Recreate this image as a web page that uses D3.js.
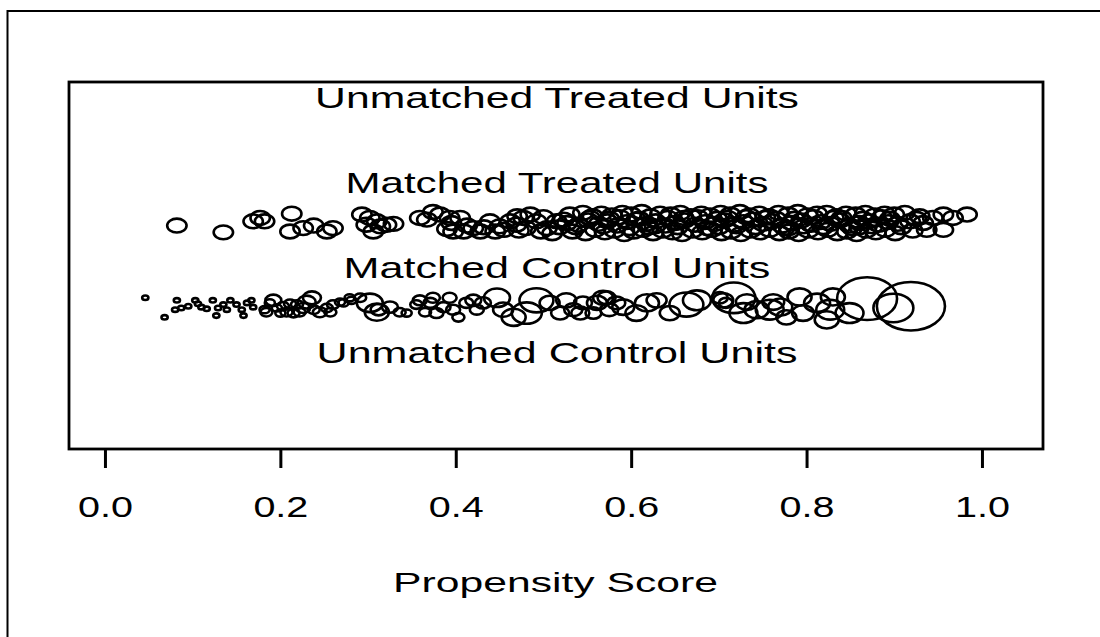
<!DOCTYPE html>
<html>
<head>
<meta charset="utf-8">
<script src="https://cdn.jsdelivr.net/npm/d3@7"></script>
<style>
  body { margin: 0; background: #fff; }
  text { font-family: "Liberation Sans", Arial, sans-serif; fill: #000; }
</style>
</head>
<body>
<div id="chart"></div>
<script>

// propensity scores and jittered y positions of the matched treated units
var treatedScore = [
    0.082, 0.135, 0.169, 0.177, 0.182, 0.213, 0.211, 0.226, 0.238, 0.253, 0.260,
    0.293, 0.298, 0.302, 0.306, 0.310, 0.314, 0.321, 0.329,
    0.359, 0.367, 0.374, 0.382, 0.390, 0.393, 0.397, 0.405, 0.409, 0.420, 0.428,
    0.439, 0.450, 0.462, 0.469, 0.477, 0.485, 0.492, 0.504, 0.515, 0.523,
    0.395, 0.413, 0.432, 0.445, 0.455, 0.472, 0.480, 0.497, 0.510, 0.518, 0.500, 0.470,
    0.530, 0.545, 0.556, 0.566, 0.578, 0.590, 0.600, 0.612, 0.622, 0.633, 0.645, 0.656,
    0.668, 0.680, 0.690, 0.702, 0.713, 0.724, 0.735, 0.746, 0.757, 0.768, 0.779, 0.790,
    0.801, 0.812, 0.823, 0.834, 0.845, 0.856, 0.867, 0.878, 0.889, 0.900, 0.912, 0.929,
    0.944, 0.956, 0.967, 0.983,
    0.527, 0.540, 0.551, 0.563, 0.573, 0.584, 0.595, 0.606, 0.617, 0.628, 0.639, 0.650,
    0.661, 0.673, 0.684, 0.695, 0.706, 0.717, 0.728, 0.739, 0.750, 0.761, 0.772, 0.783,
    0.794, 0.805, 0.816, 0.827, 0.838, 0.849, 0.860, 0.871, 0.882, 0.893, 0.904, 0.918, 0.933,
    0.533, 0.548, 0.559, 0.570, 0.581, 0.592, 0.603, 0.614, 0.625, 0.636, 0.647, 0.658,
    0.670, 0.681, 0.692, 0.703, 0.714, 0.725, 0.736, 0.747, 0.758, 0.769, 0.780, 0.791,
    0.802, 0.813, 0.824, 0.835, 0.846, 0.857, 0.868, 0.879, 0.890, 0.901, 0.921, 0.937, 0.956,
    0.575, 0.660, 0.710, 0.765, 0.840, 0.895, 0.620, 0.700, 0.780, 0.860,
    0.537, 0.553, 0.568, 0.587, 0.598, 0.609, 0.627, 0.642, 0.653, 0.676, 0.687, 0.698,
    0.720, 0.731, 0.742, 0.753, 0.775, 0.786, 0.797, 0.808, 0.819, 0.831, 0.852, 0.864,
    0.875, 0.886, 0.908, 0.925
];
var treatedJitter = [
    2.47, 2.39, 2.52, 2.56, 2.52, 2.61, 2.40, 2.44, 2.47, 2.40, 2.44,
    2.60, 2.48, 2.56, 2.40, 2.52, 2.46, 2.48, 2.49,
    2.56, 2.54, 2.63, 2.60, 2.43, 2.56, 2.40, 2.56, 2.40, 2.44, 2.40,
    2.52, 2.46, 2.52, 2.48, 2.56, 2.60, 2.52, 2.44, 2.52, 2.54,
    2.50, 2.47, 2.45, 2.40, 2.42, 2.41, 2.44, 2.40, 2.38, 2.45, 2.57, 2.58,
    2.60, 2.62, 2.58, 2.61, 2.59, 2.62, 2.60, 2.63, 2.58, 2.61, 2.60, 2.62,
    2.58, 2.61, 2.59, 2.62, 2.60, 2.63, 2.59, 2.61, 2.58, 2.62, 2.60, 2.63,
    2.59, 2.61, 2.62, 2.58, 2.61, 2.60, 2.62, 2.59, 2.61, 2.60, 2.62, 2.58,
    2.56, 2.60, 2.56, 2.60,
    2.50, 2.48, 2.53, 2.49, 2.52, 2.47, 2.51, 2.54, 2.49, 2.52, 2.47, 2.50,
    2.53, 2.48, 2.51, 2.49, 2.53, 2.48, 2.51, 2.54, 2.49, 2.52, 2.47, 2.50,
    2.53, 2.48, 2.51, 2.49, 2.53, 2.47, 2.50, 2.52, 2.48, 2.51, 2.49, 2.52, 2.50,
    2.40, 2.38, 2.42, 2.39, 2.41, 2.37, 2.40, 2.42, 2.38, 2.41, 2.39, 2.37,
    2.41, 2.39, 2.42, 2.38, 2.40, 2.37, 2.41, 2.39, 2.42, 2.38, 2.40, 2.37,
    2.41, 2.39, 2.42, 2.38, 2.40, 2.37, 2.41, 2.39, 2.42, 2.38, 2.41, 2.42, 2.42,
    2.55, 2.56, 2.56, 2.55, 2.56, 2.55, 2.45, 2.45, 2.44, 2.45,
    2.45, 2.56, 2.46, 2.57, 2.44, 2.55, 2.46, 2.56, 2.45, 2.57, 2.44, 2.55,
    2.46, 2.57, 2.45, 2.56, 2.44, 2.55, 2.46, 2.57, 2.45, 2.56, 2.44, 2.55,
    2.46, 2.57, 2.45, 2.55
];

// matched control units: score, jittered y, matching weight (drawn as symbol size)
var controlScore = [
    0.046, 0.068, 0.082, 0.080, 0.087, 0.095, 0.103, 0.106, 0.110, 0.116, 0.123,
    0.127, 0.129, 0.135, 0.139, 0.143, 0.150, 0.156, 0.158, 0.162, 0.167, 0.169,
    0.182, 0.188, 0.192, 0.196, 0.200, 0.203, 0.184, 0.207, 0.211, 0.215, 0.219,
    0.222, 0.226, 0.230, 0.236, 0.238, 0.245, 0.253, 0.257, 0.260, 0.268, 0.272,
    0.279, 0.281, 0.291, 0.302, 0.310, 0.312, 0.325, 0.336, 0.344, 0.355, 0.359,
    0.365, 0.371, 0.374, 0.378, 0.386, 0.393, 0.397, 0.403, 0.412, 0.420, 0.424,
    0.431, 0.447, 0.454, 0.466, 0.481, 0.492, 0.507, 0.519, 0.526, 0.534, 0.542,
    0.545, 0.557, 0.561, 0.568, 0.572, 0.575, 0.583, 0.591, 0.606, 0.618, 0.629,
    0.644, 0.663, 0.675, 0.701, 0.705, 0.708, 0.717, 0.728, 0.732, 0.743, 0.758,
    0.762, 0.770, 0.777, 0.792, 0.796, 0.812, 0.823, 0.827, 0.830, 0.849, 0.869,
    0.899, 0.919
];
var controlJitter = [
    1.62, 1.39, 1.59, 1.48, 1.50, 1.52, 1.59, 1.55, 1.51, 1.49, 1.59,
    1.41, 1.50, 1.54, 1.48, 1.59, 1.54, 1.48, 1.41, 1.56, 1.59, 1.51,
    1.48, 1.56, 1.59, 1.50, 1.44, 1.52, 1.45, 1.45, 1.55, 1.44, 1.54,
    1.45, 1.50, 1.57, 1.62, 1.48, 1.45, 1.50, 1.45, 1.54, 1.57, 1.56,
    1.62, 1.59, 1.62, 1.56, 1.45, 1.48, 1.51, 1.45, 1.44, 1.54, 1.59,
    1.45, 1.56, 1.62, 1.44, 1.51, 1.62, 1.48, 1.39, 1.56, 1.59, 1.48,
    1.56, 1.62, 1.48, 1.39, 1.44, 1.59, 1.56, 1.44, 1.59, 1.48, 1.44,
    1.56, 1.44, 1.56, 1.62, 1.62, 1.48, 1.56, 1.51, 1.44, 1.56, 1.59,
    1.44, 1.54, 1.59, 1.62, 1.59, 1.56, 1.62, 1.44, 1.57, 1.48, 1.48,
    1.57, 1.51, 1.39, 1.63, 1.44, 1.56, 1.36, 1.48, 1.63, 1.44, 1.61,
    1.50, 1.52
];
var controlWeight = [
    0.32, 0.32, 0.32, 0.32, 0.32, 0.32, 0.32, 0.32, 0.32, 0.32, 0.32,
    0.32, 0.32, 0.32, 0.32, 0.32, 0.32, 0.32, 0.32, 0.32, 0.32, 0.32,
    0.52, 0.52, 0.82, 0.52, 0.52, 0.62, 0.62, 0.62, 0.62, 0.62, 0.62,
    0.62, 0.72, 0.93, 0.93, 0.62, 0.72, 0.62, 0.62, 0.62, 0.52, 0.52,
    0.52, 0.52, 0.62, 1.34, 1.24, 0.82, 0.82, 0.62, 0.52, 0.62, 0.72,
    0.62, 0.72, 0.72, 0.72, 0.72, 0.72, 0.72, 0.62, 0.72, 0.82, 0.72,
    0.82, 1.34, 1.03, 1.24, 1.55, 1.75, 1.03, 0.93, 1.03, 0.93, 0.93,
    0.93, 0.82, 1.03, 1.03, 0.93, 0.93, 0.93, 1.13, 1.13, 1.24, 1.03,
    1.03, 1.75, 1.44, 0.82, 1.03, 0.72, 2.22, 1.44, 1.13, 1.24, 1.44,
    1.13, 1.24, 1.03, 1.24, 1.13, 1.34, 1.24, 1.44, 1.24, 1.44, 3.09,
    2.06, 3.51
];

var groupLabels = ["Unmatched Treated Units", "Matched Treated Units",
                   "Matched Control Units", "Unmatched Control Units"];
var groupLevels = [4, 3, 2, 1];
var xTicks = [0, 0.2, 0.4, 0.6, 0.8, 1.0];

var width = 1100, height = 637;
var box = {left: 69, right: 1043, top: 82, bottom: 449};

var svg = d3.select("#chart").append("svg")
    .attr("width", width)
    .attr("height", height);

svg.append("rect").attr("width", width).attr("height", height).attr("fill", "#fff");

// outer frame (runs off the right and bottom edges)
svg.append("rect")
    .attr("x", 7.5).attr("y", 11)
    .attr("width", width + 20).attr("height", height + 20)
    .attr("fill", "none").attr("stroke", "#000").attr("stroke-width", 2);

var x = d3.scaleLinear().domain([-0.041, 1.0696]).range([box.left, box.right]);
var y = d3.scaleLinear().domain([-0.16, 4.16]).range([box.bottom, box.top]);
// symbol size: weight 1 = a treated unit's circle; the picture is stretched sideways
var rx = d3.scaleLinear().domain([0, 1]).range([0, 9.7]);
var ry = d3.scaleLinear().domain([0, 1]).range([0, 6.9]);

// the original is stretched sideways, so widen text to its measured width
function stretchText(sel, cx, cy, targetWidth) {
    sel.attr("x", 0).attr("y", 0).attr("text-anchor", "middle");
    var w = sel.node().getComputedTextLength();
    sel.attr("transform", "translate(" + cx + "," + cy + ") scale(" + (targetWidth / w) + ",1)");
}

// group labels
var labelWidths = [484, 423, 427, 481];
groupLabels.forEach(function(d, i) {
    var t = svg.append("text")
        .attr("class", "glabel")
        .attr("font-size", 30)
        .text(d);
    stretchText(t, 557, y(groupLevels[i]) + 12.5, labelWidths[i]);
});

var treated = treatedScore.map(function(s, i) { return {s: s, j: treatedJitter[i], w: 1}; });
var control = controlScore.map(function(s, i) { return {s: s, j: controlJitter[i], w: controlWeight[i]}; });

function drawPoints(data, cls) {
    svg.append("g").attr("class", cls)
        .selectAll("ellipse")
        .data(data)
        .enter().append("ellipse")
        .attr("cx", function(d) { return x(d.s); })
        .attr("cy", function(d) { return y(d.j); })
        .attr("rx", function(d) { return rx(d.w); })
        .attr("ry", function(d) { return ry(d.w); })
        .attr("fill", "none")
        .attr("stroke", "#000")
        .attr("stroke-width", 2.6);
}
drawPoints(treated, "treated");
drawPoints(control, "control");

// plot box
svg.append("rect")
    .attr("x", box.left).attr("y", box.top)
    .attr("width", box.right - box.left).attr("height", box.bottom - box.top)
    .attr("fill", "none").attr("stroke", "#000").attr("stroke-width", 2.8);

// x axis
var axis = svg.append("g")
    .attr("transform", "translate(0," + box.bottom + ")")
    .call(d3.axisBottom(x).tickValues(xTicks).tickSize(19).tickFormat(d3.format(".1f")));
axis.select(".domain").remove();
axis.selectAll(".tick line").attr("stroke", "#000").attr("stroke-width", 3);
axis.selectAll(".tick text")
    .attr("dy", null)
    .attr("font-size", 29)
    .attr("font-family", "Liberation Sans, Arial, sans-serif")
    .attr("fill", "#000")
    .each(function() { stretchText(d3.select(this), 0, 68, 55); });

var title = svg.append("text")
    .attr("font-size", 28)
    .text("Propensity Score");
stretchText(title, 555.5, 592, 325);

</script>
</body>
</html>
